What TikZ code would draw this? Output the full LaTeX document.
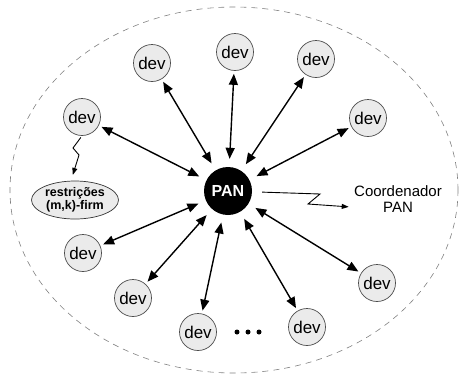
\documentclass[tikz,border=0pt]{standalone}
\usepackage{fontspec}
\setmainfont{Liberation Sans}
\usetikzlibrary{arrows.meta, positioning, shapes.geometric}

\begin{document}
\begin{tikzpicture}[x=1pt, y=-1pt,
	dev/.style={circle, draw=black!70, fill=black!8, line width=0.7pt,
		minimum size=37pt, inner sep=0pt, font=\fontsize{17}{17}\selectfont},
	pan/.style={circle, fill=black, text=white, minimum size=48pt,
		inner sep=0pt, font=\bfseries\fontsize{16}{16}\selectfont},
	restr/.style={ellipse, draw=black!80, fill=black!8, line width=0.7pt,
		minimum width=87pt, minimum height=38pt, inner sep=0pt, align=center,
		font=\bfseries\fontsize{12.5}{13}\selectfont},
	link/.style={{Triangle[length=11pt,width=9pt]}-{Triangle[length=11pt,width=9pt]},
		line width=1.4pt, shorten <=8pt, shorten >=3pt},
	zigzag/.style={-{Triangle[length=7pt,width=5pt]}, line width=0.9pt}]
	\useasboundingbox (0,0) rectangle (460,373);
	% area da rede
	\draw[gray, line width=0.6pt, dash pattern=on 6pt off 5pt]
		(234,190) ellipse [x radius=224, y radius=183];
	% coordenador
	\node[pan] (pan) at (228,191) {PAN};
	% dispositivos
	\foreach \n/\x/\y in {1/82/117, 2/152/63, 3/235/52, 4/316/59, 5/368/118,
		6/377/283, 7/307/327, 8/198/332, 9/133/298, 10/83/253}
	\node[dev] (d\n) at (\x,\y) {dev};
	\foreach \n in {1,...,10}
	\draw[link] (pan) -- (d\n);
	% restricoes
	\node[restr] (rest) at (75,200) {restrições\\(m,k)-firm};
	\draw[zigzag, shorten <=2pt, shorten >=6pt]
		(d1.south) -- (73,148) -- (79,155) -- ([xshift=-4pt]rest.north);
	% legenda do coordenador
	\node[align=center, font=\fontsize{15}{16}\selectfont] (coord) at (398,199)
		{Coordenador\\PAN};
	\draw[zigzag, shorten <=10pt, shorten >=2pt]
		(pan) -- (320,194) -- (308,204) -- ([yshift=-8pt]coord.west);
	% reticencias
	\foreach \x in {237,248,259}
	\fill (\x,332) circle (2.5pt);
\end{tikzpicture}
\end{document}
